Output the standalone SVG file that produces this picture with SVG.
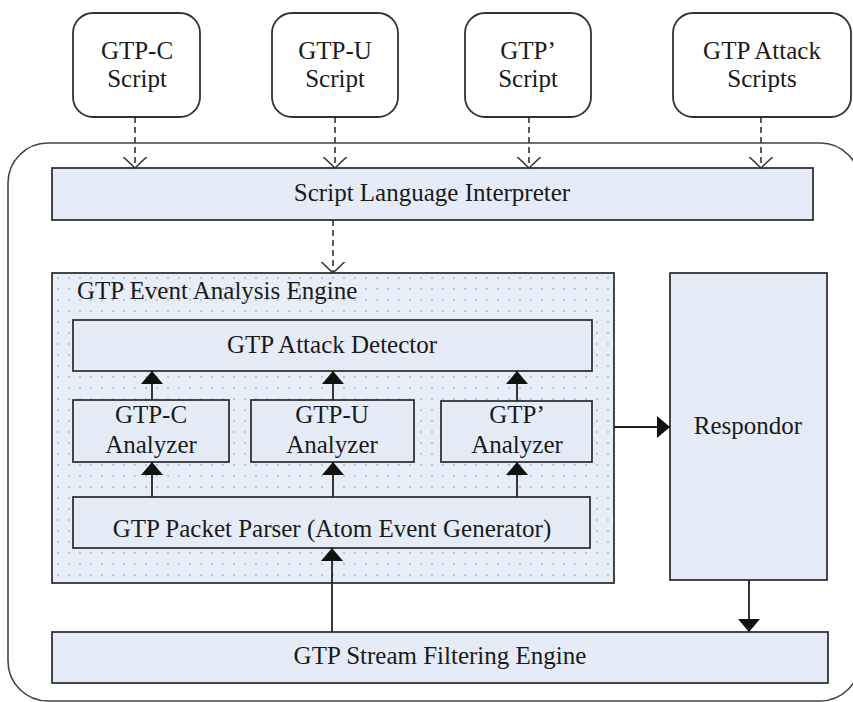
<svg xmlns="http://www.w3.org/2000/svg" width="853" height="702" viewBox="0 0 853 702">
<style>
text{font-family:"Liberation Serif","DejaVu Serif","Noto Serif",serif;font-size:25px;fill:#1a1a1a;text-anchor:middle}
.box{fill:#e6ecf7;stroke:#333;stroke-width:1.8}
.script{fill:#fff;stroke:#333;stroke-width:1.8}
.dash{stroke:#333;stroke-width:1.6;stroke-dasharray:6 4;fill:none}
.solid{stroke:#222;stroke-width:1.8;fill:none}
</style>
<defs>
<pattern id="dots" width="11" height="11" patternUnits="userSpaceOnUse">
<rect width="11" height="11" fill="#e8eef8"/>
<circle cx="3" cy="3" r="1" fill="#a3b8e2"/>
</pattern>
<marker id="tri" viewBox="0 0 13 22" refX="13" refY="11" markerWidth="13" markerHeight="22" markerUnits="userSpaceOnUse" orient="auto">
<path d="M0,0 L13,11 L0,22 z" fill="#111"/>
</marker>
<marker id="vee" viewBox="0 0 12 26" refX="11.5" refY="13" markerWidth="12" markerHeight="26" markerUnits="userSpaceOnUse" orient="auto">
<path d="M0,1 L11.5,13 L0,25" fill="none" stroke="#333" stroke-width="1.5"/>
</marker>
</defs>
<rect width="853" height="702" fill="#fff"/>

<g id="container">
<rect x="8" y="143" width="852" height="558" rx="40" ry="40" fill="#fff" stroke="#444" stroke-width="1.6"/>
</g>

<g id="gtpc-script">
<rect class="script" x="73" y="13" width="127" height="104" rx="20"/>
<text x="137" y="59">GTP-C</text>
<text x="137" y="87">Script</text>
</g>
<g id="gtpu-script">
<rect class="script" x="272" y="13" width="126" height="104" rx="20"/>
<text x="335" y="59">GTP-U</text>
<text x="335" y="87">Script</text>
</g>
<g id="gtpprime-script">
<rect class="script" x="465" y="13" width="126" height="104" rx="20"/>
<text x="528" y="59">GTP’</text>
<text x="528" y="87">Script</text>
</g>
<g id="attack-scripts">
<rect class="script" x="673" y="13" width="178" height="104" rx="20"/>
<text x="762" y="59">GTP Attack</text>
<text x="762" y="87">Scripts</text>
</g>

<g id="interpreter">
<rect class="box" x="52" y="168" width="761" height="52"/>
<text x="432" y="201">Script Language Interpreter</text>
</g>

<g id="event-engine">
<rect x="52" y="273" width="562" height="310" fill="url(#dots)" stroke="#333" stroke-width="1.8"/>
<text x="77" y="299" style="text-anchor:start">GTP Event Analysis Engine</text>
</g>

<g id="attack-detector">
<rect class="box" x="73" y="320" width="519" height="51"/>
<text x="332" y="353">GTP Attack Detector</text>
</g>

<g id="gtpc-analyzer">
<rect class="box" x="73" y="400" width="156" height="62"/>
<text x="151" y="423">GTP-C</text>
<text x="151" y="453">Analyzer</text>
</g>
<g id="gtpu-analyzer">
<rect class="box" x="251" y="400" width="163" height="62"/>
<text x="332" y="423">GTP-U</text>
<text x="332" y="453">Analyzer</text>
</g>
<g id="gtpprime-analyzer">
<rect class="box" x="441" y="401" width="151" height="61"/>
<text x="517" y="423">GTP’</text>
<text x="517" y="453">Analyzer</text>
</g>

<g id="packet-parser">
<rect class="box" x="73" y="497" width="517" height="51"/>
<text x="332" y="537">GTP Packet Parser (Atom Event Generator)</text>
</g>

<g id="respondor">
<rect class="box" x="670" y="273" width="157" height="307"/>
<text x="748" y="434">Respondor</text>
</g>

<g id="stream-filter">
<rect class="box" x="52" y="632" width="776" height="51"/>
<text x="440" y="664">GTP Stream Filtering Engine</text>
</g>

<g id="connectors">
<line class="dash" x1="135" y1="117" x2="135" y2="168" marker-end="url(#vee)"/>
<line class="dash" x1="335" y1="117" x2="335" y2="168" marker-end="url(#vee)"/>
<line class="dash" x1="529" y1="117" x2="529" y2="168" marker-end="url(#vee)"/>
<line class="dash" x1="761" y1="117" x2="761" y2="168" marker-end="url(#vee)"/>
<line class="dash" x1="333" y1="220" x2="333" y2="273" marker-end="url(#vee)"/>
<line class="solid" x1="152" y1="400" x2="152" y2="371" marker-end="url(#tri)"/>
<line class="solid" x1="333" y1="400" x2="333" y2="371" marker-end="url(#tri)"/>
<line class="solid" x1="517" y1="401" x2="517" y2="371" marker-end="url(#tri)"/>
<line class="solid" x1="152" y1="497" x2="152" y2="462" marker-end="url(#tri)"/>
<line class="solid" x1="333" y1="497" x2="333" y2="462" marker-end="url(#tri)"/>
<line class="solid" x1="517" y1="497" x2="517" y2="462" marker-end="url(#tri)"/>
<line class="solid" x1="332" y1="632" x2="332" y2="548" marker-end="url(#tri)"/>
<line class="solid" x1="614" y1="427" x2="670" y2="427" marker-end="url(#tri)"/>
<line class="solid" x1="749" y1="580" x2="749" y2="632" marker-end="url(#tri)"/>
</g>
</svg>
